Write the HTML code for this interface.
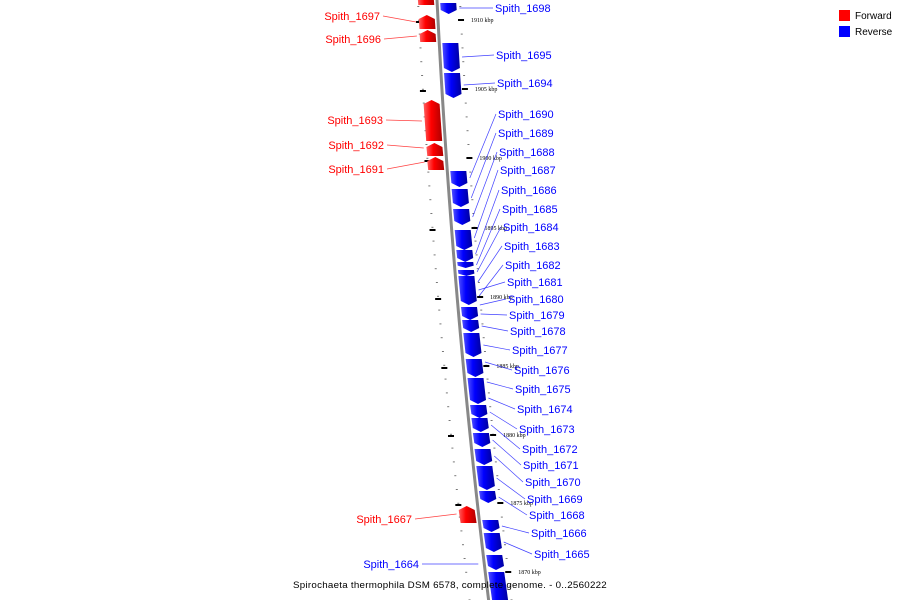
<!DOCTYPE html>
<html><head><meta charset="utf-8"><style>
html,body{margin:0;padding:0;background:#fff;}
svg{display:block;font-family:"Liberation Sans",sans-serif;}
</style></head><body>
<svg id="map" width="900" height="600" viewBox="0 0 900 600">
<defs>
<linearGradient id="gb" x1="0" x2="1"><stop offset="0" stop-color="#5050ff"/><stop offset="0.4" stop-color="#0000ff"/><stop offset="1" stop-color="#0000a0"/></linearGradient>
<linearGradient id="gr" x1="0" x2="1"><stop offset="0" stop-color="#ff6060"/><stop offset="0.4" stop-color="#ff0000"/><stop offset="1" stop-color="#b00000"/></linearGradient>
</defs>
<g id="ticks"></g>
<path id="backbone" fill="none" stroke="#888" stroke-width="3"/>
<g id="genes"></g>
<g id="labels"></g>
<g>
<rect x="839" y="10" width="11" height="11" fill="#f00"/>
<text x="855" y="19" font-size="10">Forward</text>
<rect x="839" y="26" width="11" height="11" fill="#00f"/>
<text x="855" y="35" font-size="10">Reverse</text>
</g>
<text x="450" y="588" font-size="9.6" text-anchor="middle" letter-spacing="0.25" textLength="314" lengthAdjust="spacingAndGlyphs">Spirochaeta thermophila DSM 6578, complete genome. - 0..2560222</text>
</svg>
<script>
// gene data: strand, start y, end y
const geneStrands = ['-','-','-','-','-','-','-','-','-','-','-','-','-','-','-','-','-','-','-','-','-','-','-','-','-','-','+','+','+','+','+','+','+'];
const geneStarts = [3,43,73,171,189,209,230,250,262,270,276,307,320,333,359,378,405,418,433,449,466,491,520,533,555,572,-5,15,30,100,143,157,506];
const geneEnds   = [14,72,98,187,207,225,250,262,268,276,305,320,332,357,377,404,418,432,447,465,490,503,532,552,570,605,5,29,42,141,156,170,523];
// labels
const labelNames = ['Spith_1698','Spith_1695','Spith_1694','Spith_1690','Spith_1689','Spith_1688','Spith_1687','Spith_1686','Spith_1685','Spith_1684','Spith_1683','Spith_1682','Spith_1681','Spith_1680','Spith_1679','Spith_1678','Spith_1677','Spith_1676','Spith_1675','Spith_1674','Spith_1673','Spith_1672','Spith_1671','Spith_1670','Spith_1669','Spith_1668','Spith_1666','Spith_1665','Spith_1664','Spith_1697','Spith_1696','Spith_1693','Spith_1692','Spith_1691','Spith_1667'];
const labelX = [495,496,497,498,498,499,500,501,502,503,504,505,507,508,509,510,512,514,515,517,519,522,523,525,527,529,531,534,419,380,381,383,384,384,412];
const labelY = [8,55,83,114,133,152,170,190,209,227,246,265,282,299,315,331,350,370,389,409,429,449,465,482,499,515,533,554,564,16,39,120,145,169,519];
const labelAnchorY = [8,57,85,178,198,217,238,254,265,272,282,296,290,305,314,326,345,362,382,398,412,425,440,456,478,497,526,542,564,22,36,121,148,162,514];
const tickKbp = ['1910 kbp','1905 kbp','1900 kbp','1895 kbp','1890 kbp','1885 kbp','1880 kbp','1875 kbp','1870 kbp'];
const tickY = [20,89,158,228,297,366,435,503,572];

function bx(y){return 437+0.05*y+0.00006*y*y;}
const NS='http://www.w3.org/2000/svg';
function mk(t,a){const e=document.createElementNS(NS,t);for(const k in a)e.setAttribute(k,a[k]);return e;}

let d='';for(let y=-5;y<=605;y+=5)d+=(d?'L':'M')+bx(y).toFixed(2)+' '+y+' ';
document.getElementById('backbone').setAttribute('d',d);

const tg=document.getElementById('ticks');
for(let y=6;y<600;y+=13.8){
  for(const off of [-20,22]){
    const e=mk('rect',{x:bx(y)+off,y:y,width:2,height:1,fill:'#777'});
    
    
    tg.appendChild(e);
  }
}
tickKbp.forEach((t,i)=>{
  const y=tickY[i];
  const m=mk('rect',{x:bx(y)+20,y:y-1,width:6,height:2,fill:'#000'});
  
  
  tg.appendChild(m);
  const m2=mk('rect',{x:bx(y-69)-22,y:y-69+1,width:6,height:2,fill:'#000'});
  
  
  tg.appendChild(m2);
  const tx=mk('text',{x:bx(y)+33,y:y+2,'font-size':'6','font-family':'Liberation Serif, serif'});
  tx.textContent=t;
  
  
  tg.appendChild(tx);
});

const gg=document.getElementById('genes');
geneStrands.forEach((s,i)=>{
  const y0=geneStarts[i],y1=geneEnds[i];if(y1<=y0)return;
  const h=Math.min(4,(y1-y0)/2.5);let pts;const w=16;
  if(s==='-'){
    const a=bx(y0)+3,b=bx(y1)+3;
    pts=[[a,y0],[a+w,y0],[b+w,y1-h],[b+w/2,y1],[b,y1-h]];
  }else{
    const a=bx(y0)-19,b=bx(y1)-19;
    pts=[[a+w/2,y0],[a+w,y0+h],[b+w,y1],[b,y1],[a,y0+h]];
  }
  const p=mk('polygon',{points:pts.map(q=>q[0].toFixed(1)+','+q[1]).join(' '),fill:s==='-'?'url(#gb)':'url(#gr)'});
  
  
  gg.appendChild(p);
});

const lg=document.getElementById('labels');
labelNames.forEach((n,i)=>{
  const red=i>=29;
  const left=i>=28;
  const col=red?'#f00':'#00f';
  const ay=labelAnchorY[i];
  let x1,x2;
  if(left){x2=labelX[i]+3;x1=(i===28)?bx(ay)-6:bx(ay)-22;}
  else{x1=bx(ay)+22;x2=labelX[i]-2;}
  const l=mk('line',{x1:x1,y1:ay,x2:x2,y2:labelY[i],stroke:col,'stroke-width':'0.7','stroke-opacity':'0.75'});
  
  
  lg.appendChild(l);
  const t=mk('text',{x:labelX[i],y:labelY[i]+4,'font-size':'11',fill:col,'text-anchor':left?'end':'start'});
  t.textContent=n;
  
  
  lg.appendChild(t);
});
</script>
</body></html>
